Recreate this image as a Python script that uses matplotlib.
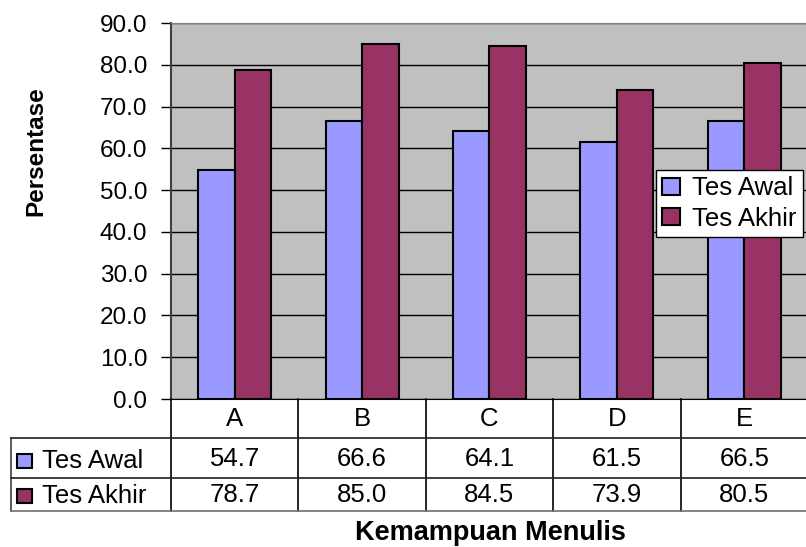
import matplotlib.pyplot as plt
from matplotlib.patches import Patch, Rectangle
from matplotlib.lines import Line2D
from matplotlib.transforms import blended_transform_factory

plt.rcParams['font.family'] = ['Liberation Sans', 'DejaVu Sans']

kategori = ['A', 'B', 'C', 'D', 'E']
tes_awal = [54.7, 66.6, 64.1, 61.5, 66.5]
tes_akhir = [78.7, 85.0, 84.5, 73.9, 80.5]
seri = ['Tes Awal', 'Tes Akhir']
warna = ['#9999FF', '#993366']
y_ticks = [0, 10, 20, 30, 40, 50, 60, 70, 80, 90]

W, H = 806, 547
fs_tick = 17.5
fs_tab = 18.5
fs_lab = 17.5


def fx(x):
    return x / W


def fy(y):
    return 1 - y / H


fig = plt.figure(figsize=(W / 100, H / 100), dpi=100)
ax = fig.add_axes([fx(171), fy(399), 637 / W, 376 / H])
ax.set_facecolor('#C0C0C0')

lebar = 0.286
x = list(range(len(kategori)))
ax.bar([i - lebar / 2 for i in x], tes_awal, lebar, color=warna[0],
       edgecolor='black', linewidth=1.5, zorder=3)
ax.bar([i + lebar / 2 for i in x], tes_akhir, lebar, color=warna[1],
       edgecolor='black', linewidth=1.5, zorder=3)

ax.set_xlim(-0.5, len(kategori) - 0.5)
ax.set_ylim(0, 90)
ax.set_yticks(y_ticks)
ax.set_yticklabels([f'{v:.1f}' for v in y_ticks], fontsize=fs_tick)
ax.set_xticks([])
ax.yaxis.grid(True, color='black', linewidth=1)
ax.set_axisbelow(True)
ax.tick_params(axis='y', direction='out', length=7, width=1, pad=10)
for s in ['top', 'right']:
    ax.spines[s].set_color('#808080')
ax.spines['left'].set_color('#404040')
ax.spines['left'].set_linewidth(1.5)
ax.spines['bottom'].set_color('black')

ax.set_ylabel('Persentase', fontsize=fs_lab, fontweight='bold')
ax.yaxis.set_label_coords((47 - 171) / 637, 0.66)

# tabel data di bawah sumbu
tr = blended_transform_factory(ax.transData, fig.transFigure)
kiri = -0.5 - 160 / 127.4
batas = [i - 0.5 for i in range(len(kategori) + 1)]
baris_y = [399, 438, 478, 511]

lw = 1.2
for b in batas:
    fig.add_artist(Line2D([b, b], [fy(399), fy(511)], transform=tr,
                          color='black', linewidth=lw))
fig.add_artist(Line2D([kiri, kiri], [fy(438), fy(511)], transform=tr,
                      color='#404040', linewidth=lw))
for yy in baris_y[1:]:
    fig.add_artist(Line2D([kiri, batas[-1]], [fy(yy), fy(yy)], transform=tr,
                          color='#202020' if yy != 511 else '#707070',
                          linewidth=lw))

for i, k in enumerate(kategori):
    fig.text(i, fy(419), k, transform=tr, ha='center', va='center',
             fontsize=fs_tab)
    fig.text(i, fy(459), f'{tes_awal[i]:.1f}', transform=tr, ha='center',
             va='center', fontsize=fs_tab)
    fig.text(i, fy(495), f'{tes_akhir[i]:.1f}', transform=tr, ha='center',
             va='center', fontsize=fs_tab)

for nama, c, yc in zip(seri, warna, [461, 496]):
    fig.add_artist(Rectangle((fx(17), fy(yc + 7)), 15 / W, 14 / H,
                             transform=fig.transFigure, facecolor=c,
                             edgecolor='black', linewidth=1.5))
    fig.text(fx(42), fy(yc), nama, ha='left', va='center', fontsize=fs_tab)

fig.text(fx(490), fy(533), 'Kemampuan Menulis', ha='center', va='center',
         fontsize=19.5, fontweight='bold')

handles = [Patch(facecolor=c, edgecolor='black', linewidth=1.5, label=n)
           for n, c in zip(seri, warna)]
leg = fig.legend(handles=handles, loc='upper left',
                 bbox_to_anchor=(fx(656), fy(170)), fontsize=fs_tab,
                 fancybox=False, framealpha=1, edgecolor='black',
                 handlelength=0.7, handleheight=0.65, handletextpad=0.45,
                 borderpad=0.25, labelspacing=0.25, borderaxespad=0)
leg.get_frame().set_linewidth(1)

fig.savefig('out.png', dpi=100)
